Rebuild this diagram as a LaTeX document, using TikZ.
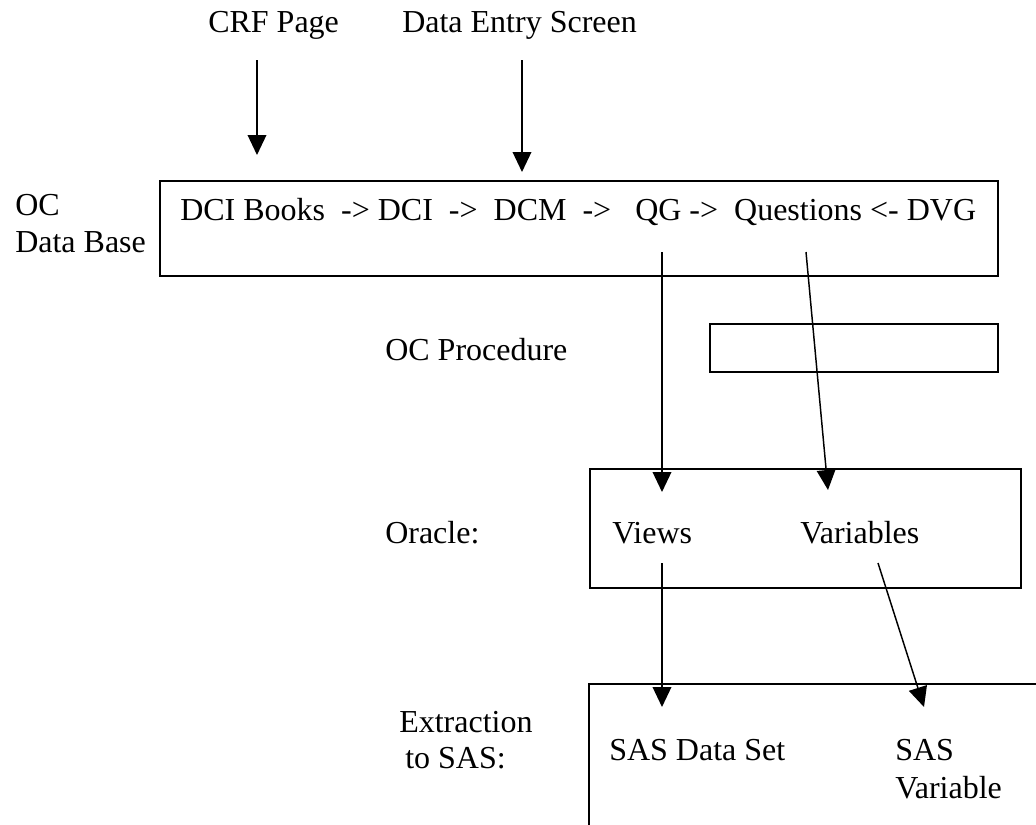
\documentclass[tikz,border=0pt]{standalone}
\usepackage{fontspec}
\setmainfont{Liberation Serif}
\usetikzlibrary{arrows.meta}

\begin{document}
\begin{tikzpicture}[x=0.75pt, y=-0.75pt, font=\fontsize{24}{29}\selectfont,
  lbl/.style={anchor=base west, inner sep=0pt},
  box/.style={draw, line width=1.1pt},
  arr/.style={-{Triangle[length=15pt,width=14pt]}, line width=1.1pt}]
\useasboundingbox (0,0) rectangle (1036,825);

\node[lbl] (crf) at (208,32) {CRF Page};
\node[lbl] (screen) at (402,32) {Data Entry Screen};

\node[lbl] (oc) at (15,215) {OC};
\node[lbl] (database) at (15,252) {Data Base};
\node[lbl] (proc) at (385,360) {OC Procedure};
\node[lbl] (oracle) at (385,543) {Oracle:};
\node[lbl] (extract) at (399,732) {Extraction};
\node[lbl] (tosas) at (405,768) {to SAS:};

\draw[box] (160,181) rectangle (998,276);
\draw[box] (710,324) rectangle (998,372);
\draw[box] (590,469) rectangle (1021,588);
\draw[box] (1036,684) -- (589,684) -- (589,825);

\node[lbl] (chain) at (180,220) {DCI Books\ \ ->\ DCI\ \ ->\ \ DCM\ \ ->\ \ \ QG\ ->\ \ Questions\ <-\ DVG};
\node[lbl] (views) at (612,543) {Views};
\node[lbl] (vars) at (800,543) {Variables};
\node[lbl] (dataset) at (609,760) {SAS Data Set};
\node[lbl] (sasvar) at (895,760) {SAS};
\node[lbl] (sasvar2) at (895,798) {Variable};

\coordinate (crfTop) at (257,60);
\coordinate (crfTip) at (257,155);
\coordinate (scrTop) at (522,60);
\coordinate (scrTip) at (522,172);
\coordinate (qgTop) at (662,252);
\coordinate (viewsTip) at (662,492);
\coordinate (qTop) at (806,252);
\coordinate (varsTip) at (828,490);
\coordinate (viewsTop) at (662,563);
\coordinate (setTip) at (662,707);
\coordinate (varsTop) at (878,563);
\coordinate (sasvarTip) at (924,707);

\draw[arr] (crfTop) -- (crfTip);
\draw[arr] (scrTop) -- (scrTip);
\draw[arr] (qgTop) -- (viewsTip);
\draw[arr] (qTop) -- (varsTip);
\draw[arr] (viewsTop) -- (setTip);
\draw[arr] (varsTop) -- (sasvarTip);
\end{tikzpicture}
\end{document}
